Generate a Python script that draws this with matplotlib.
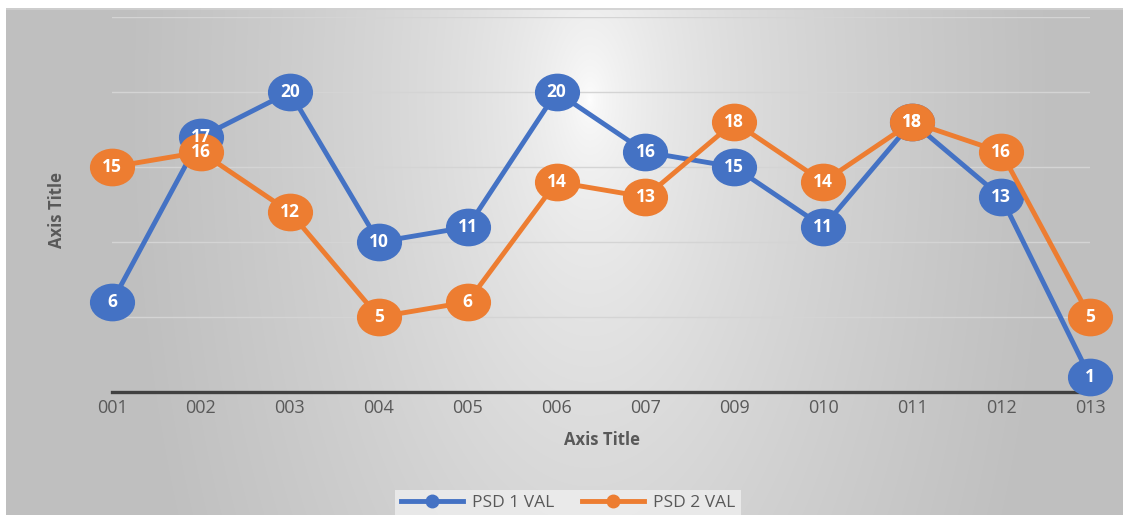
import numpy as np
import matplotlib
matplotlib.use("Agg")
import matplotlib.pyplot as plt
from matplotlib.path import Path
from matplotlib.transforms import Affine2D
from matplotlib.lines import Line2D

plt.rcParams['font.family'] = ['Open Sans', 'DejaVu Sans']

categories = ["001", "002", "003", "004", "005", "006", "007", "009", "010", "011", "012", "013"]
psd1 = [6, 17, 20, 10, 11, 20, 16, 15, 11, 18, 13, 1]
psd2 = [15, 16, 12, 5, 6, 14, 13, 18, 14, 18, 16, 5]
series_names = ["PSD 1 VAL", "PSD 2 VAL"]
series_colors = ["#4472C4", "#ED7D31"]

W, H = 1123, 515
fig = plt.figure(figsize=(W / 100, H / 100), dpi=100)
fig.patch.set_facecolor("white")

# chart area with a soft radial gradient
bx0, by0 = 6, 8
bg = fig.add_axes([bx0 / W, 0, 1 - bx0 / W, 1 - by0 / H])
xs = np.arange(bx0, W) + 0.5
ys = np.arange(by0, H) + 0.5
X, Y = np.meshgrid(xs, ys)
r = np.sqrt(((X - 590) / 465) ** 2 + ((Y - 100) / 990) ** 2)
v = 1 - 0.25 * np.clip(r, 0, 1) ** 0.55
img = np.dstack([v, v, v])
bg.imshow(img, aspect="auto", extent=[0, 1, 0, 1], interpolation="bilinear")
bg.set_xlim(0, 1)
bg.set_ylim(0, 1)
bg.axis("off")
bg.plot([0, 1], [0.999, 0.999], color="#D0D0D0", lw=1.2, transform=bg.transAxes)

# plot area
left, right = 112 / W, 1090 / W
bottom, top = 1 - 392 / H, 1 - 17 / H
ax = fig.add_axes([left, bottom, right - left, top - bottom])
ax.set_facecolor("none")
x = np.arange(len(categories))
ax.set_xlim(0, len(categories) - 1)
ax.set_ylim(0, 25)
ax.set_yticks([0, 5, 10, 15, 20, 25])
ax.yaxis.grid(True, color="#D4D4D4", lw=1.0)
ax.set_axisbelow(True)
ax.tick_params(axis="y", length=0, labelleft=False)
ax.set_xticks(x)
ax.set_xticklabels(categories, fontsize=13, color="#595959")
ax.tick_params(axis="x", length=0, pad=5)
for s in ["top", "right", "left"]:
    ax.spines[s].set_visible(False)
ax.spines["bottom"].set_color("#404040")
ax.spines["bottom"].set_linewidth(2.4)
ax.spines["bottom"].set_zorder(1)

ellipse = Path.unit_circle().transformed(Affine2D().scale(1.0, 0.83))

for k, (vals, color) in enumerate(zip([psd1, psd2], series_colors)):
    ax.plot(x, vals, color=color, lw=3.5, marker=ellipse, markersize=31.5,
            markerfacecolor=color, markeredgecolor=color, clip_on=False,
            zorder=3 + k, solid_capstyle="round")

for vals in [psd1, psd2]:
    for xi, vi in zip(x, vals):
        ax.text(xi, vi, str(vi), ha="center", va="center", color="white",
                fontsize=12.5, fontweight="bold", zorder=10, clip_on=False)

fig.text(602 / W, 1 - 440 / H, "Axis Title", ha="center", va="center",
         fontsize=12, fontweight="bold", color="#595959")
fig.text(57 / W, 1 - 210 / H, "Axis Title", ha="center", va="center",
         rotation=90, fontsize=12, fontweight="bold", color="#595959")

handles = [Line2D([0], [0], color=c, lw=3.5, marker="o", markersize=9,
                  markerfacecolor=c, markeredgecolor=c) for c in series_colors]
leg = fig.legend(handles, series_names, loc="center",
                 bbox_to_anchor=(568 / W, 1 - 503 / H), ncol=2, frameon=True,
                 fontsize=12.5, handlelength=3.6, columnspacing=1.6,
                 handletextpad=0.5, borderpad=0.3, fancybox=False)
leg.get_frame().set_facecolor("#EFEFEF")
leg.get_frame().set_edgecolor("none")
leg.get_frame().set_alpha(0.8)
for t in leg.get_texts():
    t.set_color("#595959")

fig.savefig("out.png", dpi=100)
